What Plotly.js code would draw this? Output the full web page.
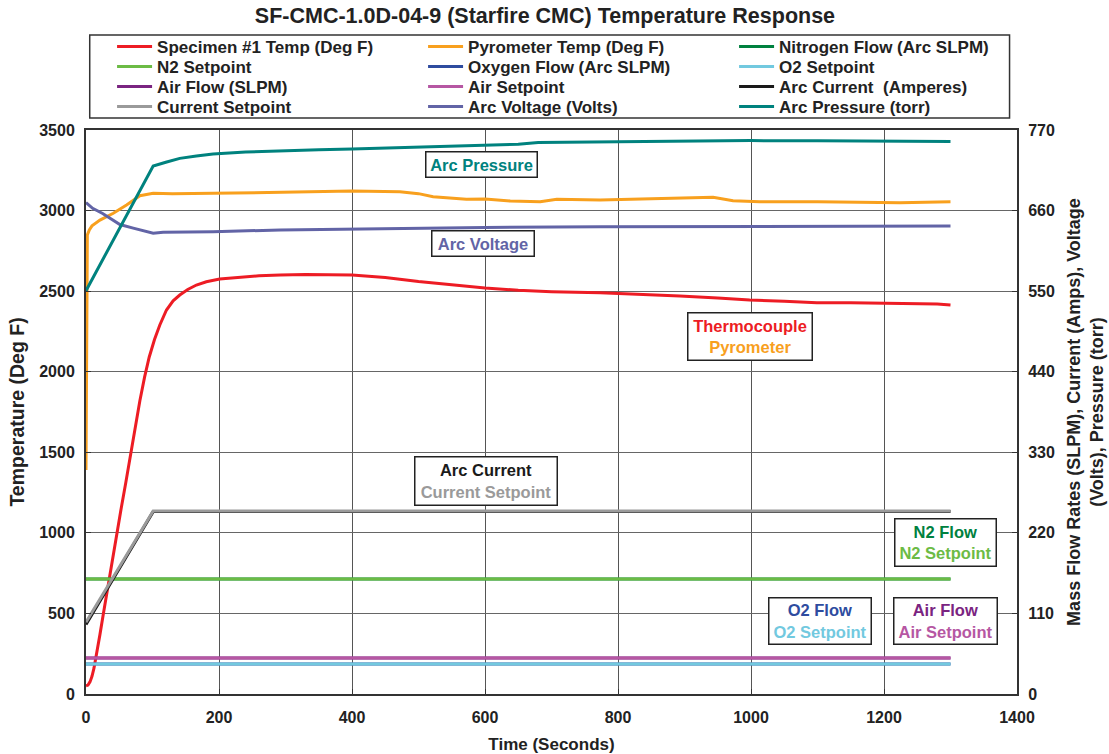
<!DOCTYPE html>
<html><head><meta charset="utf-8">
<script src="https://cdn.plot.ly/plotly-3.0.1.min.js"></script>
<style>html,body{margin:0;padding:0;background:#fff}#chart{width:1109px;height:754px}</style>
</head><body><div id="chart"></div>
<script>
// ---- Data ----
const specimenTime = [0,3,6,9,12,16,21,26,31,36,41,46,53,60,67,74,81,88,95,103,111,121,131,141,153,166,181,201,230,260,292,330,400,450,500,550,600,650,700,773,850,893,950,998,1050,1099,1150,1224,1280,1300];
const specimenTemp = [50,55,75,110,160,245,370,495,620,740,865,985,1155,1315,1490,1660,1820,1965,2090,2200,2290,2383,2440,2476,2510,2538,2558,2575,2585,2595,2600,2603,2600,2585,2560,2538,2520,2505,2497,2490,2480,2470,2458,2445,2437,2428,2428,2424,2420,2414];

const pyroTime = [0,1,2,5,9,21,41,61,81,101,130,191,292,400,472,500,522,572,600,638,683,708,773,850,893,943,973,1013,1100,1224,1300];
const pyroTemp = [1390,2500,2848,2880,2905,2941,2983,3035,3092,3107,3105,3107,3113,3121,3117,3105,3086,3070,3072,3059,3055,3070,3066,3072,3080,3082,3061,3055,3055,3049,3055];

const flowTime = [0,1300];
const nitrogenFlow = [157,157];
const n2Setpoint = [157,157];
const oxygenFlow = [41,41];
const o2Setpoint = [41,41];
const airFlow = [49,49];
const airSetpoint = [49,49];

const currentTime = [0,101,400,800,1300];
const arcCurrent = [95,249,249,249,249];
const currentSetpoint = [98,250,250,250,250];

const voltageTime = [0,10,25,40,51,71,91,101,116,191,292,400,600,773,1000,1300];
const arcVoltage = [671,663,656,647,641,636,631,629,630.3,631.2,633.5,634.8,637,638,638.5,638.9];

const pressureTime = [0,101,120,141,166,191,240,292,350,400,450,500,550,600,650,680,700,773,850,900,1000,1100,1200,1300];
const arcPressure = [550.6,720.8,726,731.3,734.5,737.2,739.8,741.7,743,744,745.5,747,748.5,749.5,750.5,753,753.2,753.6,754.2,755,755.5,755.3,754.8,754.3];

const xTicks = [0,200,400,600,800,1000,1200,1400];
const yTicks = [0,500,1000,1500,2000,2500,3000,3500];
const y2Ticks = [0,110,220,330,440,550,660,770];

// ---- Styles ----
const C = {
  red:'#ED1C24', orange:'#F8A01E', dgreen:'#00813F', green:'#6CBB45', blue:'#2E4C9F',
  cyan:'#72C9DF', purple:'#7A2481', magenta:'#B657A3', black:'#1A1A1A', gray:'#9A9A9A',
  slate:'#6264A6', teal:'#00827E'
};
const W = 3;
function tr(name, x, y, color, axis, leg, rank){
  return {type:'scatter', mode:'lines', name:name, x:x, y:y, yaxis:axis, legend:leg,
    line:{color:color, width:W}, legendrank:rank, hoverinfo:'skip'};
}
const traces = [
  tr('Nitrogen Flow (Arc SLPM)', flowTime, nitrogenFlow, C.dgreen, 'y2', 'legend', 3),
  tr('N2 Setpoint', flowTime, n2Setpoint, C.green, 'y2', 'legend2', 4),
  tr('Oxygen Flow (Arc SLPM)', flowTime, oxygenFlow, C.blue, 'y2', 'legend2', 5),
  tr('O2 Setpoint', flowTime, o2Setpoint, C.cyan, 'y2', 'legend2', 6),
  tr('Air Flow (SLPM)', flowTime, airFlow, C.purple, 'y2', 'legend3', 7),
  tr('Air Setpoint', flowTime, airSetpoint, C.magenta, 'y2', 'legend3', 8),
  tr('Arc Current  (Amperes)', currentTime, arcCurrent, C.black, 'y2', 'legend3', 9),
  tr('Current Setpoint', currentTime, currentSetpoint, C.gray, 'y2', 'legend4', 10),
  tr('Arc Voltage (Volts)', voltageTime, arcVoltage, C.slate, 'y2', 'legend4', 11),
  tr('Pyrometer Temp (Deg F)', pyroTime, pyroTemp, C.orange, 'y', 'legend', 2),
  tr('Arc Pressure (torr)', pressureTime, arcPressure, C.teal, 'y2', 'legend4', 12),
  tr('Specimen #1 Temp (Deg F)', specimenTime, specimenTemp, C.red, 'y', 'legend', 1)
];

const FF = 'Liberation Sans, Arial, sans-serif';
function box(x, y, lines, w, h){
  return {x:x, y:y, xref:'x', yref:'y', showarrow:false,
    text: lines.map(l => '<span style="color:'+l[1]+'">'+l[0]+'</span>').join('<br>'),
    font:{family:FF, size:16.5, weight:'bold', color:'#000'},
    bgcolor:'#ffffff', bordercolor:'#222', borderwidth:1.5, borderpad:2,
    width:w, height:h, align:'center', valign:'middle'};
}
const annotations = [
  box(594, 3283, [['Arc Pressure', C.teal]], 106, 20),
  box(597, 2793, [['Arc Voltage', C.slate]], 97, 20),
  box(998.5, 2219, [['Thermocouple', C.red], ['Pyrometer', C.orange]], 119, 42),
  box(601.5, 1322, [['Arc Current', C.black], ['Current Setpoint', C.gray]], 137, 43),
  box(1293, 943, [['N2 Flow', C.dgreen], ['N2 Setpoint', C.green]], 96, 42),
  box(1103, 453, [['O2 Flow', C.blue], ['O2 Setpoint', C.cyan]], 97, 41),
  box(1293, 453, [['Air Flow', C.purple], ['Air Setpoint', C.magenta]], 98, 41)
];

function legendRow(yCenterPaper){
  return {orientation:'h', x:0.028, xanchor:'left', y:yCenterPaper, yanchor:'middle',
    entrywidth:261, entrywidthmode:'pixels', itemwidth:35, traceorder:'normal',
    font:{family:FF, size:17, weight:'bold', color:'#222'}, bgcolor:'rgba(0,0,0,0)', borderwidth:0};
}

const layout = {
  width:1109, height:754,
  margin:{l:86, r:92, t:130, b:60},
  paper_bgcolor:'#fff', plot_bgcolor:'#fff',
  font:{family:FF, color:'#222'},
  title:{text:'SF-CMC-1.0D-04-9 (Starfire CMC) Temperature Response', x:0.4914, xanchor:'center', y:0.979, yanchor:'middle',
    font:{family:FF, size:21.5, weight:'bold', color:'#222'}},
  showlegend:true,
  legend:legendRow(1.1472),
  legend2:legendRow(1.1117),
  legend3:legendRow(1.0762),
  legend4:legendRow(1.0408),
  xaxis:{range:[0,1400], tickvals:xTicks, ticktext:xTicks.map(String), showgrid:true, gridcolor:'#555', gridwidth:1,
    zeroline:false, showline:true, linecolor:'#333', linewidth:2, mirror:true, ticks:'inside', ticklen:5, tickcolor:'#333',
    tickfont:{family:FF, size:16, weight:'bold', color:'#222'}, ticklabelstandoff:8,
    title:{text:'Time (Seconds)', font:{family:FF, size:17, weight:'bold', color:'#222'}, standoff:15}},
  yaxis:{range:[0,3500], tickvals:yTicks, ticktext:yTicks.map(String), showgrid:true, gridcolor:'#666', gridwidth:1,
    zeroline:false, showline:true, linecolor:'#333', linewidth:2, mirror:true, ticks:'inside', ticklen:5, tickcolor:'#333',
    tickfont:{family:FF, size:16, weight:'bold', color:'#222'}, ticklabelstandoff:6,
    title:{text:'Temperature (Deg F)', font:{family:FF, size:19.5, weight:'bold', color:'#222'}, standoff:9}},
  yaxis2:{range:[0,770], tickvals:y2Ticks, ticktext:y2Ticks.map(String), overlaying:'y', side:'right', showgrid:false,
    zeroline:false, showline:true, linecolor:'#333', linewidth:2, ticks:'inside', ticklen:5, tickcolor:'#333',
    tickfont:{family:FF, size:16, weight:'bold', color:'#222'}, ticklabelstandoff:6,
    title:{text:'Mass Flow Rates (SLPM), Current (Amps), Voltage<br>(Volts), Pressure (torr)', font:{family:FF, size:18, weight:'bold', color:'#222'}, standoff:13}},
  shapes:[{type:'rect', xref:'paper', yref:'paper', x0:0.004, x1:0.992, y0:1.0213, y1:1.1684,
    line:{color:'#333', width:1.5}, fillcolor:'rgba(0,0,0,0)'}],
  annotations:annotations
};
Plotly.newPlot('chart', traces, layout, {staticPlot:true, displayModeBar:false});
</script></body></html>
